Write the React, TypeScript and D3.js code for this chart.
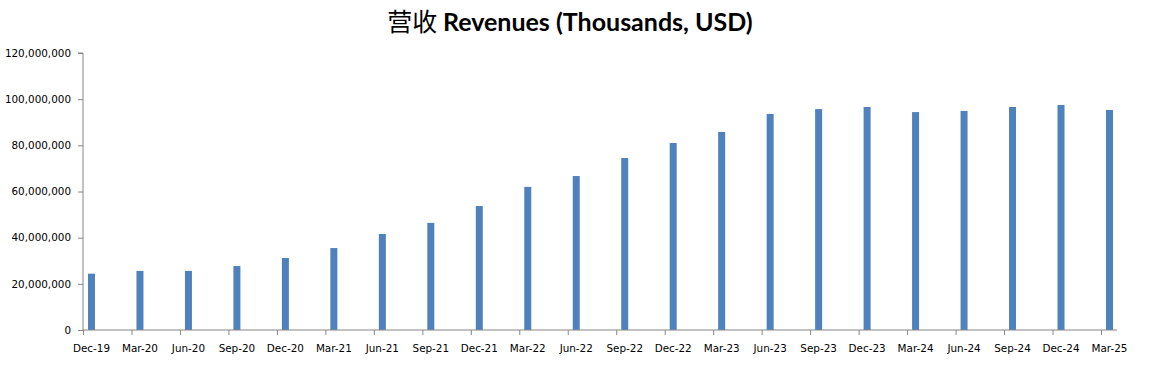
import { useEffect, useRef } from "react";
import * as d3 from "d3";

const quarters = [
  "Dec-19", "Mar-20", "Jun-20", "Sep-20", "Dec-20", "Mar-21", "Jun-21", "Sep-21",
  "Dec-21", "Mar-22", "Jun-22", "Sep-22", "Dec-22", "Mar-23", "Jun-23", "Sep-23",
  "Dec-23", "Mar-24", "Jun-24", "Sep-24", "Dec-24", "Mar-25",
];

const revenues = [
  24.4e6, 25.6e6, 25.6e6, 27.7e6, 31.2e6, 35.5e6, 41.6e6, 46.4e6,
  53.7e6, 62.0e6, 66.7e6, 74.5e6, 81.0e6, 85.8e6, 93.6e6, 95.7e6,
  96.6e6, 94.4e6, 94.9e6, 96.6e6, 97.5e6, 95.3e6,
];

const yTicks = [0, 20e6, 40e6, 60e6, 80e6, 100e6, 120e6];

const W = 1155;
const H = 365;

export default function App() {
  const ref = useRef<SVGSVGElement>(null);

  useEffect(() => {
    const svg = d3.select(ref.current);
    svg.selectAll("*").remove();

    const x = d3.scaleLinear().domain([0, 21.33]).range([83, 1117]);
    const y = d3.scaleLinear().domain([0, 120e6]).range([330, 53]);
    const barOffset = 0.175;
    const barW = 7;

    // title
    const title = svg
      .append("text")
      .attr("x", 570)
      .attr("y", 31)
      .attr("text-anchor", "middle")
      .attr("font-size", 25)
      .attr("fill", "#000");
    title
      .append("tspan")
      .attr("font-family", "'Noto Sans CJK SC'")
      .attr("font-weight", 400)
      .text("营收 ");
    title
      .append("tspan")
      .attr("font-family", "Lato, 'Open Sans', sans-serif")
      .attr("font-weight", 700)
      .text("Revenues (Thousands, USD)");

    // bars
    svg
      .append("g")
      .selectAll("rect")
      .data(revenues)
      .join("rect")
      .attr("x", (_, i) => x(i + barOffset) - barW / 2)
      .attr("y", d => y(d))
      .attr("width", barW)
      .attr("height", d => y(0) - y(d))
      .attr("fill", "#4f81bd");

    // y axis
    const yAxis = svg
      .append("g")
      .attr("transform", "translate(83,0)")
      .call(
        d3
          .axisLeft(y)
          .tickValues(yTicks)
          .tickSize(5)
          .tickPadding(7)
          .tickFormat(d => d3.format(",")(d as number))
      );
    yAxis.select(".domain").attr("stroke", "#868686").attr("d", `M-5,${y(120e6)}H0V${y(0)}`);
    yAxis.selectAll(".tick line").attr("stroke", "#868686");
    yAxis
      .selectAll(".tick text")
      .attr("font-family", "'DejaVu Sans', sans-serif")
      .attr("font-size", 10.4)
      .attr("fill", "#000");

    // x axis
    const xAxis = svg
      .append("g")
      .attr("transform", "translate(0,330)")
      .call(
        d3
          .axisBottom(x)
          .tickValues(d3.range(quarters.length))
          .tickSize(5)
          .tickFormat(() => "")
      );
    xAxis.select(".domain").attr("stroke", "#868686").attr("d", "M83,0H1117");
    xAxis.selectAll(".tick line").attr("stroke", "#868686");

    svg
      .append("g")
      .selectAll("text")
      .data(quarters)
      .join("text")
      .attr("x", (_, i) => x(i + barOffset))
      .attr("y", 352)
      .attr("text-anchor", "middle")
      .attr("font-family", "'DejaVu Sans', sans-serif")
      .attr("font-size", 10.4)
      .attr("fill", "#000")
      .text(d => d);
  }, []);

  return (
    <svg
      ref={ref}
      width={W}
      height={H}
      style={{ position: "absolute", left: 0, top: 0, background: "#fff" }}
    />
  );
}
